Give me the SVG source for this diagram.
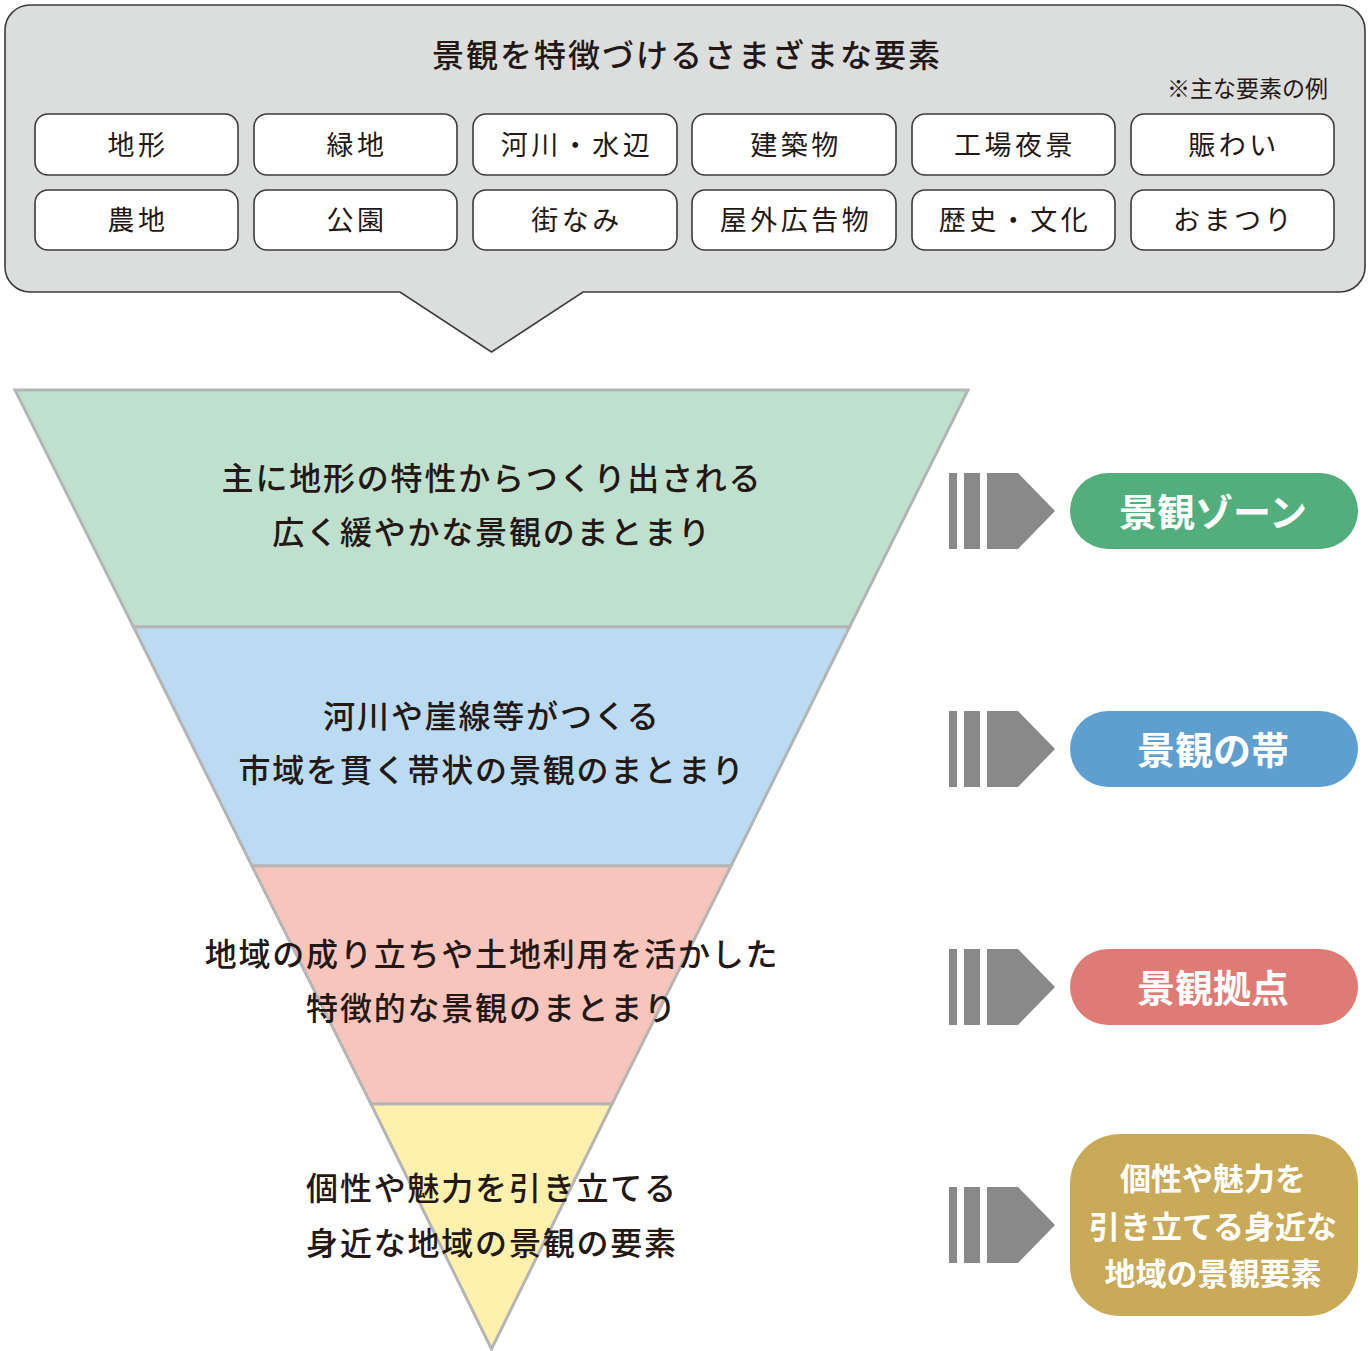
<svg xmlns="http://www.w3.org/2000/svg" width="1371" height="1351" viewBox="0 0 1371 1351">
<style>
text{font-family:"Noto Sans CJK JP","Noto Sans",sans-serif;fill:#231815;text-anchor:middle;dominant-baseline:central}
.item{fill:#fff;stroke:#3b3b3b;stroke-width:1.6}
.itxt{font-size:27px;letter-spacing:3.5px}
.band{stroke:#b5b5b5;stroke-width:3;stroke-linejoin:miter}
.btxt{font-size:32px;letter-spacing:1.8px;font-weight:500}
.arr{fill:#898989}
.ptxt{font-size:38px;font-weight:bold;fill:#fff}
.ptxt2{font-size:31px;font-weight:bold;fill:#fff}
</style>
<defs>
<g id="arrow">
<rect x="0" y="0" width="8" height="76"/>
<rect x="15" y="0" width="16" height="76"/>
<path d="M38 0H69L106 38L69 76H38Z"/>
</g>
</defs>
<g id="elements">
<path d="M30 5H1340A25 25 0 0 1 1365 30V267A25 25 0 0 1 1340 292H583L491.5 352L400 292H30A25 25 0 0 1 5 267V30A25 25 0 0 1 30 5Z" fill="#dcdddd" stroke="#3b3b3b" stroke-width="1.6"/>
<text x="687" y="53" style="font-size:32px;letter-spacing:2px;font-weight:500">景観を特徴づけるさまざまな要素</text>
<text x="1328" y="87" style="font-size:23px;text-anchor:end">※主な要素の例</text>
<g id="item-chikei"><rect class="item" x="35" y="114" width="203" height="61" rx="13"/><text class="itxt" x="138" y="143.5">地形</text></g>
<g id="item-ryokuchi"><rect class="item" x="254" y="114" width="203" height="61" rx="13"/><text class="itxt" x="357" y="143.5">緑地</text></g>
<g id="item-kasen"><rect class="item" x="473" y="114" width="204" height="61" rx="13"/><text class="itxt" x="577" y="143.5">河川・水辺</text></g>
<g id="item-kenchiku"><rect class="item" x="692" y="114" width="204" height="61" rx="13"/><text class="itxt" x="796" y="143.5">建築物</text></g>
<g id="item-kojo"><rect class="item" x="912" y="114" width="203" height="61" rx="13"/><text class="itxt" x="1015" y="143.5">工場夜景</text></g>
<g id="item-nigiwai"><rect class="item" x="1131" y="114" width="203" height="61" rx="13"/><text class="itxt" x="1234" y="143.5">賑わい</text></g>
<g id="item-nochi"><rect class="item" x="35" y="190" width="203" height="60" rx="13"/><text class="itxt" x="138" y="218.5">農地</text></g>
<g id="item-koen"><rect class="item" x="254" y="190" width="203" height="60" rx="13"/><text class="itxt" x="357" y="218.5">公園</text></g>
<g id="item-machinami"><rect class="item" x="473" y="190" width="204" height="60" rx="13"/><text class="itxt" x="577" y="218.5">街なみ</text></g>
<g id="item-kokoku"><rect class="item" x="692" y="190" width="204" height="60" rx="13"/><text class="itxt" x="796" y="218.5">屋外広告物</text></g>
<g id="item-rekishi"><rect class="item" x="912" y="190" width="203" height="60" rx="13"/><text class="itxt" x="1015" y="218.5">歴史・文化</text></g>
<g id="item-omatsuri"><rect class="item" x="1131" y="190" width="203" height="60" rx="13"/><text class="itxt" x="1234" y="218.5">おまつり</text></g>
</g>
<g id="band-zone">
<path class="band" d="M15 390H968L849.5 627H133.5Z" fill="#bfe0cf"/>
<text class="btxt" x="492" y="476">主に地形の特性からつくり出される</text>
<text class="btxt" x="492" y="530">広く緩やかな景観のまとまり</text>
</g>
<g id="band-obi">
<path class="band" d="M133.5 627H849.5L731 866H252Z" fill="#bbdbf3"/>
<text class="btxt" x="492" y="714">河川や崖線等がつくる</text>
<text class="btxt" x="492" y="768">市域を貫く帯状の景観のまとまり</text>
</g>
<g id="band-kyoten">
<path class="band" d="M252 866H731L612 1104H371Z" fill="#f7c5bc"/>
<text class="btxt" x="492" y="952">地域の成り立ちや土地利用を活かした</text>
<text class="btxt" x="492" y="1006">特徴的な景観のまとまり</text>
</g>
<g id="band-yoso">
<path class="band" d="M371 1104H612L491.5 1349Z" fill="#fef0ad"/>
<text class="btxt" x="492" y="1186">個性や魅力を引き立てる</text>
<text class="btxt" x="492" y="1241">身近な地域の景観の要素</text>
</g>
<g id="connectors" class="arr">
<use href="#arrow" x="949" y="473"/>
<use href="#arrow" x="949" y="711"/>
<use href="#arrow" x="949" y="949"/>
<use href="#arrow" x="949" y="1187"/>
</g>
<g id="label-zone"><rect x="1070" y="473" width="288" height="76" rx="38" fill="#52ae7c"/><text class="ptxt" x="1213" y="509">景観ゾーン</text></g>
<g id="label-obi"><rect x="1070" y="711" width="288" height="76" rx="38" fill="#5e9fd0"/><text class="ptxt" x="1213" y="747">景観の帯</text></g>
<g id="label-kyoten"><rect x="1070" y="949" width="288" height="76" rx="38" fill="#df7b75"/><text class="ptxt" x="1213" y="985">景観拠点</text></g>
<g id="label-yoso"><rect x="1070" y="1134" width="288" height="182" rx="50" fill="#c9aa58"/>
<text class="ptxt2" x="1213" y="1176">個性や魅力を</text>
<text class="ptxt2" x="1213" y="1224">引き立てる身近な</text>
<text class="ptxt2" x="1213" y="1271">地域の景観要素</text></g>
</svg>
